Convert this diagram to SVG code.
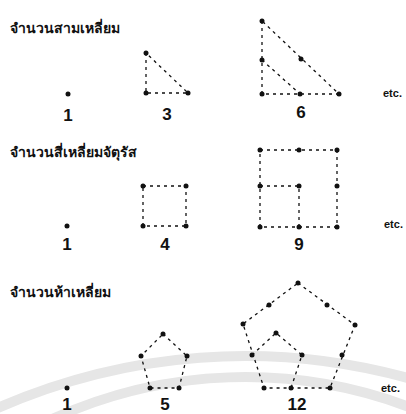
<svg xmlns="http://www.w3.org/2000/svg" width="406" height="414" viewBox="0 0 406 414">
<style>
.bg{fill:#ffffff}
.wm{fill:none;stroke:#e6e6e6;stroke-width:10}
.title{font-family:"Noto Sans","DejaVu Sans",sans-serif;font-weight:bold;font-size:14px;fill:#111}
.num{font-family:"Liberation Sans",Arial,sans-serif;font-weight:bold;font-size:17px;fill:#111;text-anchor:middle}
.etc{font-family:"Liberation Sans",Arial,sans-serif;font-weight:bold;font-size:11px;fill:#111}
.ln{fill:none;stroke:#111;stroke-width:1.3;stroke-dasharray:3 4}
.dot{fill:#111}
</style>
<rect class="bg" width="406" height="414"/>
<g id="watermark">
<path class="wm" d="M -5 409.2 A 614 614 0 0 1 410 378.6"/>
<path class="wm" d="M 50 420 A 465 465 0 0 1 410 407.3"/>
</g>
<g id="titles">
<text class="title" x="10" y="33">จำนวนสามเหลี่ยม</text>
<text class="title" x="10" y="157">จำนวนสี่เหลี่ยมจัตุรัส</text>
<text class="title" x="10" y="297">จำนวนห้าเหลี่ยม</text>
</g>
<g id="connectors">
<path class="ln" d="M146 53 L146 93 L188 93 Z"/>
<path class="ln" d="M262 21 L262 94 L339 94 Z"/>
<path class="ln" d="M262 60 L300 94"/>
<path class="ln" d="M143 186 L186 186 L186 226 L143 226 Z"/>
<path class="ln" d="M260 150 L337 150 L337 227 L260 227 Z"/>
<path class="ln" d="M260 186 L299 186 L299 227"/>
<path class="ln" d="M163 334 L187 356 L179 388 L150 388 L141 356 Z"/>
<path class="ln" d="M298 283 L355 325 L330 388 L264 388 L243 324 Z"/>
<path class="ln" d="M252 355 L276 333 L302 355 L291 388"/>
</g>
<g id="tri1"><circle class="dot" cx="68" cy="94" r="2.5"/><text class="num" x="68" y="121">1</text></g>
<g id="tri3">
<circle class="dot" cx="146" cy="53" r="2.5"/><circle class="dot" cx="146" cy="93" r="2.5"/><circle class="dot" cx="188" cy="93" r="2.5"/>
<text class="num" x="167" y="120">3</text></g>
<g id="tri6">
<circle class="dot" cx="262" cy="21" r="2.5"/><circle class="dot" cx="262" cy="60" r="2.5"/><circle class="dot" cx="262" cy="94" r="2.5"/>
<circle class="dot" cx="300" cy="94" r="2.5"/><circle class="dot" cx="339" cy="94" r="2.5"/><circle class="dot" cx="301" cy="59" r="2.5"/>
<text class="num" x="301" y="118">6</text></g>
<text class="etc" x="383" y="97">etc.</text>
<g id="sq1"><circle class="dot" cx="67" cy="226" r="2.5"/><text class="num" x="67" y="250">1</text></g>
<g id="sq4">
<circle class="dot" cx="143" cy="186" r="2.5"/><circle class="dot" cx="186" cy="186" r="2.5"/><circle class="dot" cx="143" cy="226" r="2.5"/><circle class="dot" cx="186" cy="226" r="2.5"/>
<text class="num" x="165" y="250">4</text></g>
<g id="sq9">
<circle class="dot" cx="260" cy="150" r="2.5"/><circle class="dot" cx="299" cy="150" r="2.5"/><circle class="dot" cx="337" cy="150" r="2.5"/>
<circle class="dot" cx="260" cy="186" r="2.5"/><circle class="dot" cx="299" cy="186" r="2.5"/><circle class="dot" cx="337" cy="186" r="2.5"/>
<circle class="dot" cx="260" cy="227" r="2.5"/><circle class="dot" cx="299" cy="227" r="2.5"/><circle class="dot" cx="337" cy="227" r="2.5"/>
<text class="num" x="299" y="250">9</text></g>
<text class="etc" x="384" y="228">etc.</text>
<g id="pent1"><circle class="dot" cx="67" cy="388" r="2.5"/><text class="num" x="67" y="410">1</text></g>
<g id="pent5">
<circle class="dot" cx="163" cy="334" r="2.5"/><circle class="dot" cx="187" cy="356" r="2.5"/><circle class="dot" cx="179" cy="388" r="2.5"/>
<circle class="dot" cx="150" cy="388" r="2.5"/><circle class="dot" cx="141" cy="356" r="2.5"/>
<text class="num" x="165" y="410">5</text></g>
<g id="pent12">
<circle class="dot" cx="298" cy="283" r="2.5"/><circle class="dot" cx="355" cy="325" r="2.5"/><circle class="dot" cx="330" cy="388" r="2.5"/>
<circle class="dot" cx="264" cy="388" r="2.5"/><circle class="dot" cx="243" cy="324" r="2.5"/>
<circle class="dot" cx="269" cy="305" r="2.5"/><circle class="dot" cx="327" cy="305" r="2.5"/><circle class="dot" cx="342" cy="355" r="2.5"/>
<circle class="dot" cx="252" cy="355" r="2.5"/><circle class="dot" cx="291" cy="388" r="2.5"/>
<circle class="dot" cx="276" cy="333" r="2.5"/><circle class="dot" cx="302" cy="355" r="2.5"/>
<text class="num" x="297" y="410">12</text></g>
<text class="etc" x="381" y="392">etc.</text>
</svg>
